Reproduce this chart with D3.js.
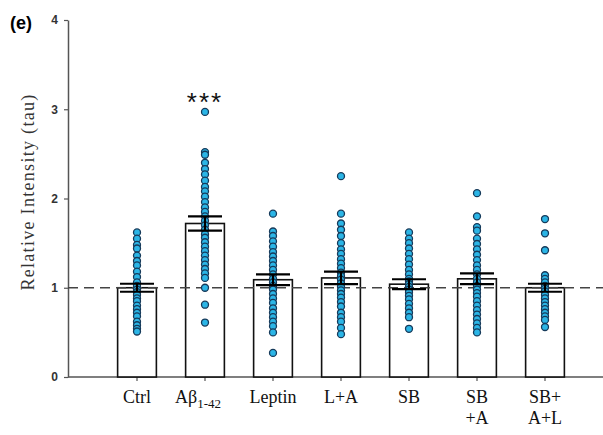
<!DOCTYPE html>
<html>
<head>
<meta charset="utf-8">
<script src="https://cdn.jsdelivr.net/npm/d3@7"></script>
<style>
  body { margin: 0; background: #fff; }
  svg { display: block; }
</style>
</head>
<body>
<div id="chart"></div>
<script>
// groups and values
const categories = ["Ctrl", "Abeta", "Leptin", "L+A", "SB", "SB+A", "SB+A+L"];
const means = [1.00, 1.72, 1.09, 1.11, 1.04, 1.10, 1.00];
const sems = [0.045, 0.08, 0.06, 0.07, 0.055, 0.06, 0.045];
const yTicks = [0, 1, 2, 3, 4];

const ctrl = [1.62, 1.55, 1.48, 1.44, 1.36, 1.30, 1.25, 1.18, 1.12, 1.06, 1.02, 0.98, 0.95, 0.92, 0.88, 0.85, 0.80, 0.76, 0.72, 0.68, 0.62, 0.58, 0.54, 0.51];
const abeta = [2.97, 2.52, 2.49, 2.40, 2.33, 2.27, 2.20, 2.13, 2.08, 2.02, 1.96, 1.90, 1.85, 1.80, 1.75, 1.70, 1.65, 1.60, 1.56, 1.51, 1.46, 1.41, 1.36, 1.31, 1.26, 1.21, 1.16, 1.11, 1.00, 0.81, 0.61];
const leptin = [1.83, 1.63, 1.58, 1.52, 1.46, 1.40, 1.35, 1.30, 1.25, 1.20, 1.15, 1.10, 1.06, 1.02, 0.98, 0.93, 0.88, 0.83, 0.77, 0.72, 0.67, 0.62, 0.57, 0.50, 0.27];
const la = [2.25, 1.83, 1.72, 1.65, 1.58, 1.50, 1.43, 1.38, 1.32, 1.27, 1.22, 1.17, 1.13, 1.09, 1.05, 1.01, 0.97, 0.93, 0.89, 0.84, 0.79, 0.72, 0.67, 0.62, 0.55, 0.48];
const sb = [1.62, 1.55, 1.50, 1.44, 1.38, 1.32, 1.26, 1.20, 1.15, 1.10, 1.07, 1.04, 1.01, 0.98, 0.95, 0.91, 0.87, 0.82, 0.77, 0.72, 0.67, 0.54];
const sba = [2.06, 1.80, 1.68, 1.64, 1.55, 1.49, 1.43, 1.37, 1.31, 1.25, 1.20, 1.15, 1.10, 1.06, 1.02, 0.98, 0.94, 0.90, 0.85, 0.80, 0.75, 0.70, 0.65, 0.60, 0.55, 0.50];
const sbal = [1.77, 1.61, 1.42, 1.14, 1.10, 1.06, 1.02, 0.99, 0.96, 0.92, 0.88, 0.84, 0.80, 0.76, 0.72, 0.68, 0.64, 0.56];
const points = [ctrl, abeta, leptin, la, sb, sba, sbal];

const width = 603, height = 435;
const svg = d3.select("#chart").append("svg")
  .attr("width", width)
  .attr("height", height);

const x = d3.scaleBand().domain(categories).range([103, 579])
  .paddingInner(0.43).paddingOuter(0.215);
const y = d3.scaleLinear().domain([0, 4]).range([377, 20]);
const axisLeftX = 68;
const cx = d => x(d) + x.bandwidth() / 2;

// y axis
const yAxis = svg.append("g")
  .attr("transform", "translate(" + axisLeftX + ",0)")
  .call(d3.axisLeft(y).tickValues(yTicks).tickFormat(d3.format("d"))
    .tickSize(4).tickSizeOuter(0).tickPadding(6));
yAxis.select(".domain").attr("stroke", "#555").attr("stroke-width", 1.5);
yAxis.selectAll(".tick line").attr("stroke", "#555").attr("stroke-width", 1.2);
yAxis.selectAll(".tick text")
  .attr("font-family", "Liberation Sans, Arial, sans-serif")
  .attr("font-size", 12).attr("font-weight", "bold").attr("fill", "#333");

svg.append("text")
  .attr("transform", "translate(34,192) rotate(-90)")
  .attr("text-anchor", "middle")
  .attr("font-family", "Liberation Serif, Times New Roman, serif")
  .attr("font-size", 18).attr("letter-spacing", 1.3).attr("fill", "#333")
  .text("Relative Intensity (tau)");

// x axis
const xAxis = svg.append("g")
  .attr("transform", "translate(0," + y(0) + ")")
  .call(d3.axisBottom(x).tickSize(4).tickFormat(""));
xAxis.select(".domain").remove();
xAxis.selectAll(".tick line").attr("stroke", "#555").attr("stroke-width", 1.2);
svg.append("line")
  .attr("x1", axisLeftX).attr("x2", width)
  .attr("y1", y(0)).attr("y2", y(0))
  .attr("stroke", "#555").attr("stroke-width", 1.5);

// bars
svg.selectAll("rect.bar").data(categories).join("rect")
  .attr("class", "bar")
  .attr("x", d => x(d)).attr("width", x.bandwidth())
  .attr("y", (d, i) => y(means[i]))
  .attr("height", (d, i) => y(0) - y(means[i]))
  .attr("fill", "#fff").attr("stroke", "#111").attr("stroke-width", 1.6);

// reference line at 1
svg.append("line")
  .attr("x1", axisLeftX).attr("x2", width)
  .attr("y1", y(1)).attr("y2", y(1))
  .attr("stroke", "#444").attr("stroke-width", 1.3)
  .attr("stroke-dasharray", "10,6");

// dots
categories.forEach((c, i) => {
  svg.append("g").selectAll("circle").data(points[i]).join("circle")
    .attr("cx", cx(c)).attr("cy", d => y(d))
    .attr("r", 3.5)
    .attr("fill", "#2bb5e6").attr("stroke", "#163a5a").attr("stroke-width", 1.3);
});

// error bars
const capHalf = 17;
categories.forEach((c, i) => {
  const g = svg.append("g").attr("stroke", "#000").attr("stroke-width", 2.2);
  const hi = y(means[i] + sems[i]), lo = y(means[i] - sems[i]);
  g.append("line").attr("x1", cx(c)).attr("x2", cx(c)).attr("y1", hi).attr("y2", lo);
  [hi, lo].forEach(v => {
    g.append("line").attr("x1", cx(c) - capHalf).attr("x2", cx(c) + capHalf)
      .attr("y1", v).attr("y2", v);
  });
});

// significance
svg.append("text")
  .attr("x", cx("Abeta")).attr("y", 111)
  .attr("text-anchor", "middle")
  .attr("font-family", "Liberation Sans, Arial, sans-serif")
  .attr("font-size", 26).attr("letter-spacing", 2).attr("fill", "#111")
  .text("***");

// category labels
const labelLines = [["Ctrl"], ["Aβ"], ["Leptin"], ["L+A"], ["SB"], ["SB", "+A"], ["SB+", "A+L"]];
const lab = svg.append("g")
  .attr("font-family", "Liberation Serif, Times New Roman, serif")
  .attr("font-size", 18).attr("fill", "#111").attr("text-anchor", "middle");
categories.forEach((c, i) => {
  const t = lab.append("text").attr("x", cx(c)).attr("y", 403);
  if (c === "Abeta") {
    t.attr("text-anchor", "start").attr("x", cx(c) - 30);
    t.append("tspan").text("Aβ");
    t.append("tspan").attr("font-size", 13).attr("dy", 5).text("1-42");
    return;
  }
  labelLines[i].forEach((s, k) => {
    t.append("tspan").attr("x", cx(c)).attr("dy", k === 0 ? 0 : 21).text(s);
  });
});

// panel letter
svg.append("text")
  .attr("x", 10).attr("y", 29)
  .attr("font-family", "Liberation Sans, Arial, sans-serif")
  .attr("font-size", 18).attr("font-weight", "bold").attr("fill", "#000")
  .text("(e)");
</script>
</body>
</html>
